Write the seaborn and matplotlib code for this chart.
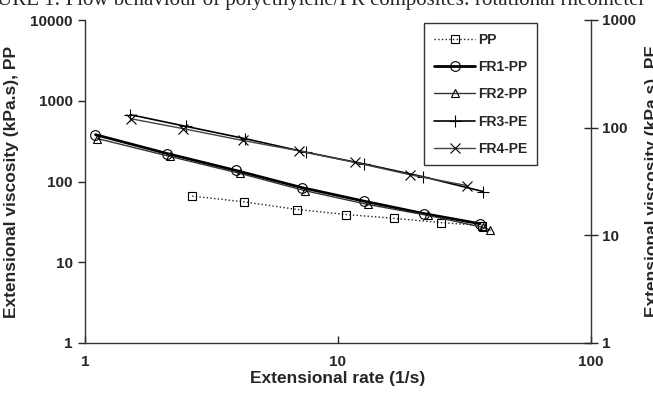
import numpy as np
import pandas as pd
import seaborn as sns
import matplotlib
matplotlib.use("Agg")
import matplotlib.pyplot as plt

#data
#PP series (left axis)
pp_rate = [2.65, 4.25, 6.9, 10.8, 16.6, 25.5, 37.1]
pp_visc = [66, 56, 45, 39, 35, 31, 28.5]
fr1_rate = [1.1, 2.11, 3.95, 7.2, 12.7, 21.9, 36.4]
fr1_visc = [380, 222, 137, 84, 57, 40, 30]
fr2_rate = [1.12, 2.17, 4.1, 7.4, 13.1, 22.7, 37.5, 40.0]
fr2_visc = [340, 204, 126, 77, 52, 38, 27, 25]
#PE series (right axis)
fr3_rate = [1.51, 2.5, 4.3, 7.5, 12.7, 21.7, 37.5]
fr3_visc = [132, 103, 79, 59, 46, 35, 25.5]
fr4_rate = [1.52, 2.44, 4.2, 7.0, 11.7, 19.3, 32.3]
fr4_visc = [121, 98, 76, 61, 47.5, 36.5, 29]

x_ticks = [1, 10, 100]
x_tick_labels = ["1", "10", "100"]
left_ticks = [1, 10, 100, 1000, 10000]
left_tick_labels = ["1", "10", "100", "1000", "10000"]
right_ticks = [1, 10, 100, 1000]
right_tick_labels = ["1", "10", "100", "1000"]

sns.set_style("ticks")
plt.rcParams['font.family'] = ['Liberation Sans', 'DejaVu Sans']

fig = plt.figure(figsize=(6.53, 3.96), dpi=100)
ax = fig.add_axes([85/653, 1 - 343/396, 506/653, 323/396])
ax2 = ax.twinx()

#cropped figure caption at the very top
fig.text(-0.004, 0.999, "URE 1: Flow behaviour of polyethylene/FR composites: rotational rheometer",
         family=['Liberation Serif', 'DejaVu Serif'], fontsize=15, va='center', ha='left')

def draw(axis, x, y, label, marker, ls, lw, color, ms):
    df = pd.DataFrame({"rate": x, "visc": y})
    sns.lineplot(data=df, x="rate", y="visc", ax=axis, label=label, marker=marker,
                 linestyle=ls, linewidth=lw, color=color, markersize=ms,
                 markerfacecolor='none', markeredgecolor='black', markeredgewidth=0.8,
                 sort=False, legend=False)

draw(ax, pp_rate, pp_visc, "PP", 's', ':', 1.0, '#222222', 6)
draw(ax, fr1_rate, fr1_visc, "FR1-PP", 'o', '-', 2.0, 'black', 7)
draw(ax, fr2_rate, fr2_visc, "FR2-PP", '^', '-', 1.0, '#333333', 6)
draw(ax2, fr3_rate, fr3_visc, "FR3-PE", '+', '-', 1.2, 'black', 8)
draw(ax2, fr4_rate, fr4_visc, "FR4-PE", 'x', '-', 1.0, '#444444', 7)

for a in (ax, ax2):
    a.set_xscale('log')
    a.set_yscale('log')
    a.set_xlim(1, 100)
ax.set_ylim(1, 10000)
ax2.set_ylim(1, 1000)

ax.set_xticks(x_ticks)
ax.set_xticklabels(x_tick_labels)
ax.set_yticks(left_ticks)
ax.set_yticklabels(left_tick_labels)
ax2.set_yticks(right_ticks)
ax2.set_yticklabels(right_tick_labels)
ax.minorticks_off()
ax2.minorticks_off()

ax.tick_params(axis='y', direction='out', length=5, width=1, labelsize=11, pad=4)
ax.tick_params(axis='x', direction='in', length=5, width=1, labelsize=11, pad=9)
ax2.tick_params(axis='y', direction='inout', length=10, width=1, labelsize=11, pad=3)
for lab in ax.get_xticklabels() + ax.get_yticklabels() + ax2.get_yticklabels():
    lab.set_fontweight('bold')

for a in (ax, ax2):
    a.spines['top'].set_visible(False)
    for s in ('left', 'bottom', 'right'):
        a.spines[s].set_color('#333333')
        a.spines[s].set_linewidth(1.0)
ax.spines['right'].set_visible(False)
ax2.spines['left'].set_visible(False)
ax2.spines['bottom'].set_visible(False)

ax.set_xlabel("Extensional rate (1/s)", fontsize=12.5, fontweight='bold', labelpad=1)
ax.set_ylabel("Extensional viscosity (kPa.s), PP", fontsize=12.5, fontweight='bold')
ax.yaxis.set_label_coords(-0.13, 0.5)
ax2.set_ylabel("Extensional viscosity (kPa.s), PE", fontsize=12.5, fontweight='bold')
ax2.yaxis.set_label_coords(1.107, 0.5)

#legend with handles from both axes
h1, l1 = ax.get_legend_handles_labels()
h2, l2 = ax2.get_legend_handles_labels()
leg = ax2.legend(h1 + h2, l1 + l2, loc='upper left', bbox_to_anchor=(0.67, 0.99),
                 borderaxespad=0, frameon=True, fancybox=False, framealpha=1,
                 edgecolor='#333333', prop={'weight': 'bold', 'size': 10},
                 labelspacing=0.95, handlelength=3.0, borderpad=0.7, handletextpad=0.2)
leg.get_frame().set_linewidth(1.0)

fig.savefig("out.png", dpi=100)
